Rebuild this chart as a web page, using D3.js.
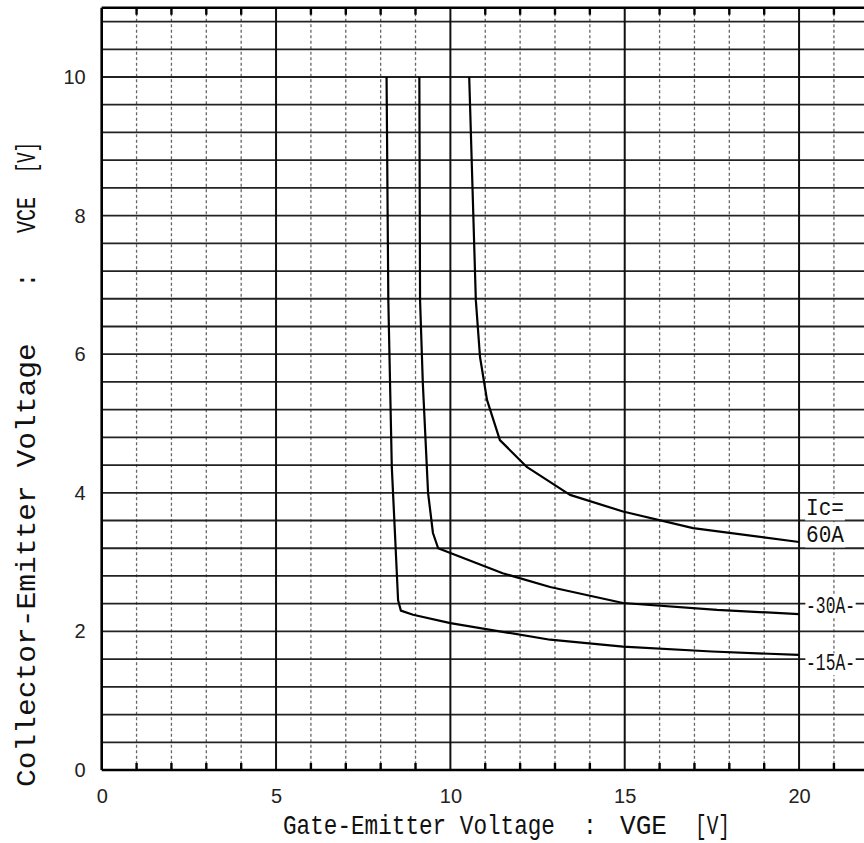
<!DOCTYPE html>
<html><head><meta charset="utf-8">
<script src="https://cdn.jsdelivr.net/npm/d3@7/dist/d3.min.js"></script>
<style>html,body{margin:0;padding:0;background:#fff;}</style>
</head><body>
<script>
// ---- data ----
const vge15 = [8.17, 8.22, 8.32, 8.41, 8.50, 8.58, 8.93, 10.0, 12.86, 14.95, 17.5, 20];
const vce15 = [10, 6.78, 4.37, 3.42, 2.45, 2.30, 2.24, 2.12, 1.88, 1.78, 1.71, 1.66];
const vge30 = [9.11, 9.13, 9.21, 9.36, 9.50, 9.65, 10.0, 11.5, 12.86, 14.95, 17.65, 20];
const vce30 = [10, 6.78, 5.58, 4.0, 3.42, 3.20, 3.13, 2.84, 2.64, 2.41, 2.31, 2.25];
const vge60 = [10.54, 10.73, 10.85, 11.05, 11.42, 12.2, 13.43, 14.95, 16.96, 20];
const vce60 = [10, 6.78, 5.96, 5.34, 4.76, 4.37, 3.97, 3.73, 3.49, 3.29];
const xTicks = [0, 5, 10, 15, 20];
const yTicks = [0, 2, 4, 6, 8, 10];
const labelTexts = ["Ic=", "60A", "-30A-", "-15A-"];
const labelX = [20.2, 20.2, 20.2, 20.2];
const labelY = [3.68, 3.29, 2.27, 1.44];

const W = 864, H = 843;
const svg = d3.select("body").append("svg").attr("width", W).attr("height", H)
  .style("display","block").style("background","#fff");
const x = d3.scaleLinear().domain([0, 22]).range([101.7, 868.8]);
const y = d3.scaleLinear().domain([0, 11]).range([770, 7.7]);

// grid: vertical minor dashed
const minorX = d3.range(1, 23).filter(v => v % 5 !== 0);
const majorX = d3.range(5, 23, 5);
svg.append("g").selectAll("line").data(minorX).join("line")
  .attr("x1", d => x(d)).attr("x2", d => x(d))
  .attr("y1", y(11)).attr("y2", y(0))
  .attr("stroke", "#666").attr("stroke-width", 1.3).attr("stroke-dasharray", "3,2.5");
// horizontal lines every 0.4
const hLines = d3.range(1, 28).map(k => +(k * 0.4).toFixed(1));
svg.append("g").selectAll("line").data(hLines).join("line")
  .attr("x1", x(0)).attr("x2", x(22))
  .attr("y1", d => y(d)).attr("y2", d => y(d))
  .attr("stroke", "#222").attr("stroke-width", 1.8);
// major vertical
svg.append("g").selectAll("line").data(majorX).join("line")
  .attr("x1", d => x(d)).attr("x2", d => x(d))
  .attr("y1", y(11)).attr("y2", y(0))
  .attr("stroke", "#111").attr("stroke-width", 2);
// border
svg.append("line").attr("x1", x(0)).attr("x2", x(22)).attr("y1", y(11)).attr("y2", y(11))
  .attr("stroke", "#000").attr("stroke-width", 2.6);
svg.append("line").attr("x1", x(0)).attr("x2", x(22)).attr("y1", y(0)).attr("y2", y(0))
  .attr("stroke", "#000").attr("stroke-width", 2.6);
svg.append("line").attr("x1", x(0)).attr("x2", x(0)).attr("y1", y(11)).attr("y2", y(0))
  .attr("stroke", "#000").attr("stroke-width", 2.6);
// tick marks top and bottom
svg.append("g").selectAll("line").data(minorX).join("line")
  .attr("x1", d => x(d)).attr("x2", d => x(d))
  .attr("y1", y(11)).attr("y2", y(11) + 7)
  .attr("stroke", "#000").attr("stroke-width", 2.4);
svg.append("g").selectAll("line").data(minorX).join("line")
  .attr("x1", d => x(d)).attr("x2", d => x(d))
  .attr("y1", y(0)).attr("y2", y(0) - 7)
  .attr("stroke", "#000").attr("stroke-width", 2.4);

// axes labels via d3 axes
const sans = "'Liberation Sans', Arial, sans-serif";
const xa = svg.append("g").attr("transform", `translate(0,${y(0)})`)
  .call(d3.axisBottom(x).tickValues(xTicks).tickSize(0).tickPadding(19).tickFormat(d3.format("d")));
xa.select(".domain").remove();
xa.selectAll("text").attr("font-family", sans).attr("font-size", 20).attr("fill", "#222");
const ya = svg.append("g").attr("transform", `translate(${x(0)},0)`)
  .call(d3.axisLeft(y).tickValues(yTicks).tickSize(0).tickPadding(16).tickFormat(d3.format("d")));
ya.select(".domain").remove();
ya.selectAll("text").attr("font-family", sans).attr("font-size", 20).attr("fill", "#222");

// curves
const series = [[vge15, vce15], [vge30, vce30], [vge60, vce60]];
const line = d3.line().x(d => x(d[0])).y(d => y(d[1]));
series.forEach(([xs, ys]) => {
  svg.append("path").datum(xs.map((v, i) => [v, ys[i]]))
    .attr("d", line).attr("fill", "none").attr("stroke", "#000").attr("stroke-width", 2.2)
    .attr("stroke-linejoin", "round");
});

const mono = "'Liberation Mono', 'DejaVu Sans Mono', monospace";
// helper: text squeezed horizontally to a target width via scale transform
function squeezed(parent, str, px, py, width, fs, anchorMid) {
  const g = parent.append("g");
  const t = g.append("text").attr("font-family", mono).attr("font-size", fs).attr("fill", "#111").text(str);
  const w = t.node().getComputedTextLength();
  const s = width ? width / w : 0.82;
  const ox = anchorMid ? -w * s / 2 : 0;
  g.attr("transform", `translate(${px + ox},${py}) scale(${s},1)`);
  return g;
}

// curve labels with white backgrounds
const lg = svg.append("g");
labelTexts.forEach((t, i) => {
  const g = squeezed(lg, t, x(labelX[i]), y(labelY[i]), t.length === 3 ? 38 : 49, 24, false);
  const b = g.select("text").node().getBBox();
  g.insert("rect", "text").attr("x", b.x - 1).attr("y", b.y + 3).attr("width", b.width + 2)
    .attr("height", b.height - 5).attr("fill", "#fff");
});

// axis titles
const tfs = 28;
const xt = svg.append("g");
squeezed(xt, "Gate-Emitter Voltage", 283, 834, 272, tfs, false);
squeezed(xt, ":", 590, 834, null, tfs, true);
squeezed(xt, "VGE", 620, 834, 47, tfs, false);
squeezed(xt, "[V]", 695, 834, 35, tfs, false);

const yt = svg.append("g").attr("transform", "translate(35,787) rotate(-90)");
squeezed(yt, "Collector-Emitter Voltage", 0, 0, 444, tfs, false);
squeezed(yt, ":", 507, 0, null, tfs, true);
squeezed(yt, "VCE", 554, 0, 36, tfs, false);
squeezed(yt, "[V]", 614, 0, 31, tfs, false);
</script>
</body></html>
